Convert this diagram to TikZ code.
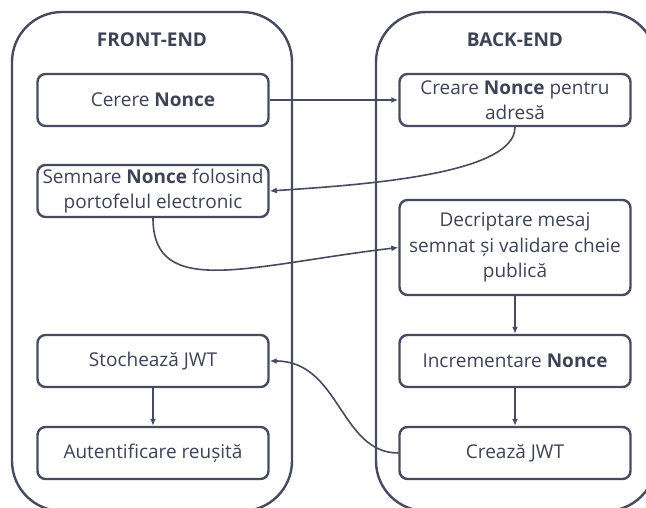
\documentclass[tikz,border=0pt]{standalone}
\usepackage{fontspec}
\setmainfont{Open Sans}
\usetikzlibrary{arrows.meta}
\definecolor{ink}{HTML}{474B5F}
\definecolor{txt}{HTML}{3E4255}
\tikzset{
  container/.style={draw=ink, line width=2.4pt, rounded corners=50pt},
  stepbox/.style={draw=ink, line width=2.4pt, rounded corners=8pt, rectangle,
    minimum width=231pt, minimum height=52pt, align=center, text=txt,
    font=\fontsize{19}{25.5}\selectfont, inner sep=0pt},
  title/.style={text=txt, font=\fontsize{19}{22}\selectfont\bfseries},
  conn/.style={draw=ink, line width=1.6pt, -{Latex[length=7pt,width=6pt]}}
}
\begin{document}
\begin{tikzpicture}[x=1pt,y=-1pt]
\useasboundingbox (0,0) rectangle (646,508);
\clip (0,0) rectangle (646,508);
\draw[container] (12,12) rectangle (292,511);
\draw[container] (376,12) rectangle (656,511);
\node[title] (tfe) at (152,40) {FRONT-END};
\node[title] (tbe) at (515,40) {BACK-END};
\node[stepbox] (cerere) at (153,100) {Cerere \textbf{Nonce}};
\node[stepbox] (semnare) at (153,191) {Semnare \textbf{Nonce} folosind\\portofelul electronic};
\node[stepbox] (stoc) at (153,361) {Stochează JWT};
\node[stepbox] (auth) at (153,453) {Autentificare reușită};
\node[stepbox] (creare) at (515,100) {Creare \textbf{Nonce} pentru\\adresă};
\node[stepbox, minimum height=95pt] (decr) at (515,247.5) {Decriptare mesaj\\semnat și validare cheie\\publică};
\node[stepbox] (incr) at (515,361) {Incrementare \textbf{Nonce}};
\node[stepbox] (creaza) at (515,453) {Crează JWT};
\draw[conn] (cerere) -- (creare);
\draw[conn] (creare.south) .. controls (515,175) and (360,185) .. (semnare.east);
\draw[conn] (semnare.south) .. controls (153,300) and (250,265) .. (decr.west);
\draw[conn] (decr) -- (incr);
\draw[conn] (incr) -- (creaza);
\draw[conn] (creaza.west) .. controls (340,453) and (340,361) .. (stoc.east);
\draw[conn] (stoc) -- (auth);
\end{tikzpicture}
\end{document}
